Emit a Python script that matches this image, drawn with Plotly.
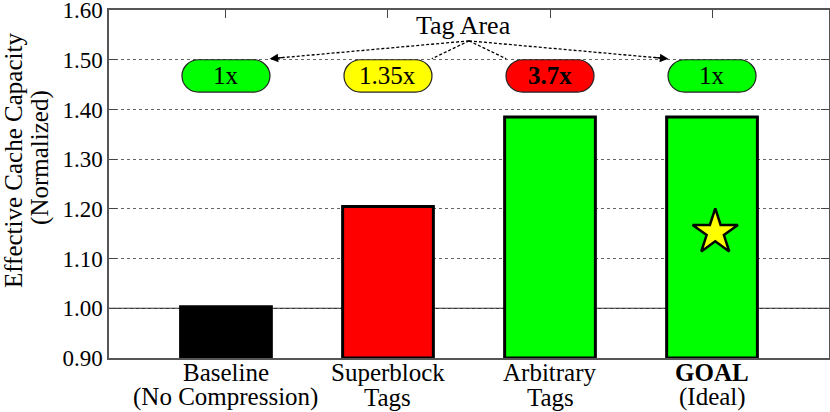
import plotly.graph_objects as go

categories = ["Baseline", "Superblock", "Arbitrary", "<b>GOAL</b>"]
categories_sub = ["(No Compression)", "Tags", "Tags", "(Ideal)"]
values = [1.003, 1.205, 1.385, 1.385]
bar_colors = ["#000000", "#ff0000", "#00ff00", "#00ff00"]
tag_labels = ["1x", "1.35x", "<b>3.7x</b>", "1x"]
tag_colors = ["#00ff00", "#ffff00", "#ff0000", "#00ff00"]
y_ticks = [0.90, 1.00, 1.10, 1.20, 1.30, 1.40, 1.50, 1.60]
y_title = ["Effective Cache Capacity", "(Normalized)"]
star_value = 1.153
FONT = "Liberation Serif"

idx = list(range(len(categories)))
fig = go.Figure()
fig.add_trace(go.Bar(x=idx, y=[v - 0.9 for v in values], base=0.9, width=0.56,
                     marker=dict(color=bar_colors, line=dict(color="black", width=3)),
                     hoverinfo="skip", showlegend=False))
fig.add_trace(go.Scatter(x=[3.02], y=[star_value], mode="markers",
                         marker=dict(symbol="star", size=34, color="#ffff00",
                                     line=dict(color="black", width=2.5)),
                         showlegend=False, hoverinfo="skip"))
fig.add_trace(go.Scatter(x=[0], y=[1.0], xaxis="x2", mode="markers",
                         marker=dict(opacity=0), showlegend=False, hoverinfo="skip"))

shapes = []
shapes.append(dict(type="line", xref="paper", yref="y", x0=0, x1=1, y0=1.0, y1=1.0,
                   line=dict(color="black", width=1), layer="below"))
px_per_cat = 720 / 4.444
pill_w = 0.543
y0p, y1p = 1.435, 1.50
ry = (y1p - y0p) / 2
rx = 16.5 / px_per_cat
k = 0.5523
for i, c in enumerate(tag_colors):
    x0 = i - pill_w / 2
    x1 = i + pill_w / 2
    yc = (y0p + y1p) / 2
    p = (f"M {x0+rx},{y0p} L {x1-rx},{y0p} "
         f"C {x1-rx+k*rx},{y0p} {x1},{yc-k*ry} {x1},{yc} "
         f"C {x1},{yc+k*ry} {x1-rx+k*rx},{y1p} {x1-rx},{y1p} "
         f"L {x0+rx},{y1p} "
         f"C {x0+rx-k*rx},{y1p} {x0},{yc+k*ry} {x0},{yc} "
         f"C {x0},{yc-k*ry} {x0+rx-k*rx},{y0p} {x0+rx},{y0p} Z")
    shapes.append(dict(type="path", xref="x", yref="y", path=p, fillcolor=c,
                       line=dict(color="#222222", width=1.2), layer="above"))

annotations = []
for i, t in enumerate(tag_labels):
    annotations.append(dict(x=i, y=(y0p + y1p) / 2, xref="x", yref="y", text=t,
                            showarrow=False, font=dict(family=FONT, size=25, color="black")))

origin = (1.5, 1.538)
targets = [(0.27, 1.502), (1.27, 1.502), (1.73, 1.502), (2.73, 1.502)]
for tx, ty in targets:
    shapes.append(dict(type="line", xref="x", yref="y", x0=origin[0], y0=origin[1],
                       x1=tx, y1=ty, line=dict(color="black", width=1.3, dash="3px,2px")))
    fx = tx + (origin[0] - tx) * 0.08
    fy = ty + (origin[1] - ty) * 0.08
    annotations.append(dict(x=tx, y=ty, ax=fx, ay=fy, xref="x", yref="y", axref="x", ayref="y",
                            text="", showarrow=True, arrowhead=2, arrowsize=1.3,
                            arrowwidth=1.3, arrowcolor="black"))
annotations.append(dict(x=1.463, y=1.568, xref="x", yref="y", text="Tag Area",
                        showarrow=False, font=dict(family=FONT, size=26, color="black")))

for i in idx:
    annotations.append(dict(x=i, y=-0.0417, xref="x", yref="paper", text=categories[i],
                            showarrow=False, yanchor="middle",
                            font=dict(family=FONT, size=25, color="black")))
    annotations.append(dict(x=i, y=-0.1135, xref="x", yref="paper", text=categories_sub[i],
                            showarrow=False, yanchor="middle",
                            font=dict(family=FONT, size=25, color="black")))
annotations.append(dict(x=-0.1333, y=0.566, xref="paper", yref="paper", text=y_title[0],
                        textangle=-90, showarrow=False, xanchor="center", yanchor="middle",
                        font=dict(family=FONT, size=25, color="black")))
annotations.append(dict(x=-0.0958, y=0.575, xref="paper", yref="paper", text=y_title[1],
                        textangle=-90, showarrow=False, xanchor="center", yanchor="middle",
                        font=dict(family=FONT, size=25, color="black")))

fig.update_layout(
    width=830, height=412,
    margin=dict(l=109, r=1, t=10, b=54),
    paper_bgcolor="white", plot_bgcolor="white",
    font=dict(family=FONT, size=23, color="black"),
    shapes=shapes, annotations=annotations,
    xaxis=dict(range=[-0.722, 3.722], tickvals=idx, showticklabels=False, ticks="",
               showline=True, linecolor="#555555", linewidth=1.5, mirror=True,
               showgrid=False, zeroline=False, automargin=False),
    xaxis2=dict(range=[-0.722, 3.722], overlaying="x", side="top", tickvals=idx,
                ticks="inside", ticklen=8, tickcolor="#444444", showticklabels=False,
                showgrid=False, zeroline=False, showline=False, automargin=False),
    yaxis=dict(range=[0.9, 1.6001], tickvals=y_ticks, tickformat=".2f", ticks="inside",
               ticklen=8, tickcolor="#444444", showline=True, linecolor="#555555",
               linewidth=1.5, mirror="ticks", showgrid=True, gridcolor="#666666",
               griddash="dot", gridwidth=1, zeroline=False, tickfont=dict(size=23),
               automargin=False, ticklabeloverflow="allow"),
)
fig.write_html("out.html", config={"displayModeBar": False},
               post_script="document.body.style.margin='0';document.body.style.overflow='hidden';")
